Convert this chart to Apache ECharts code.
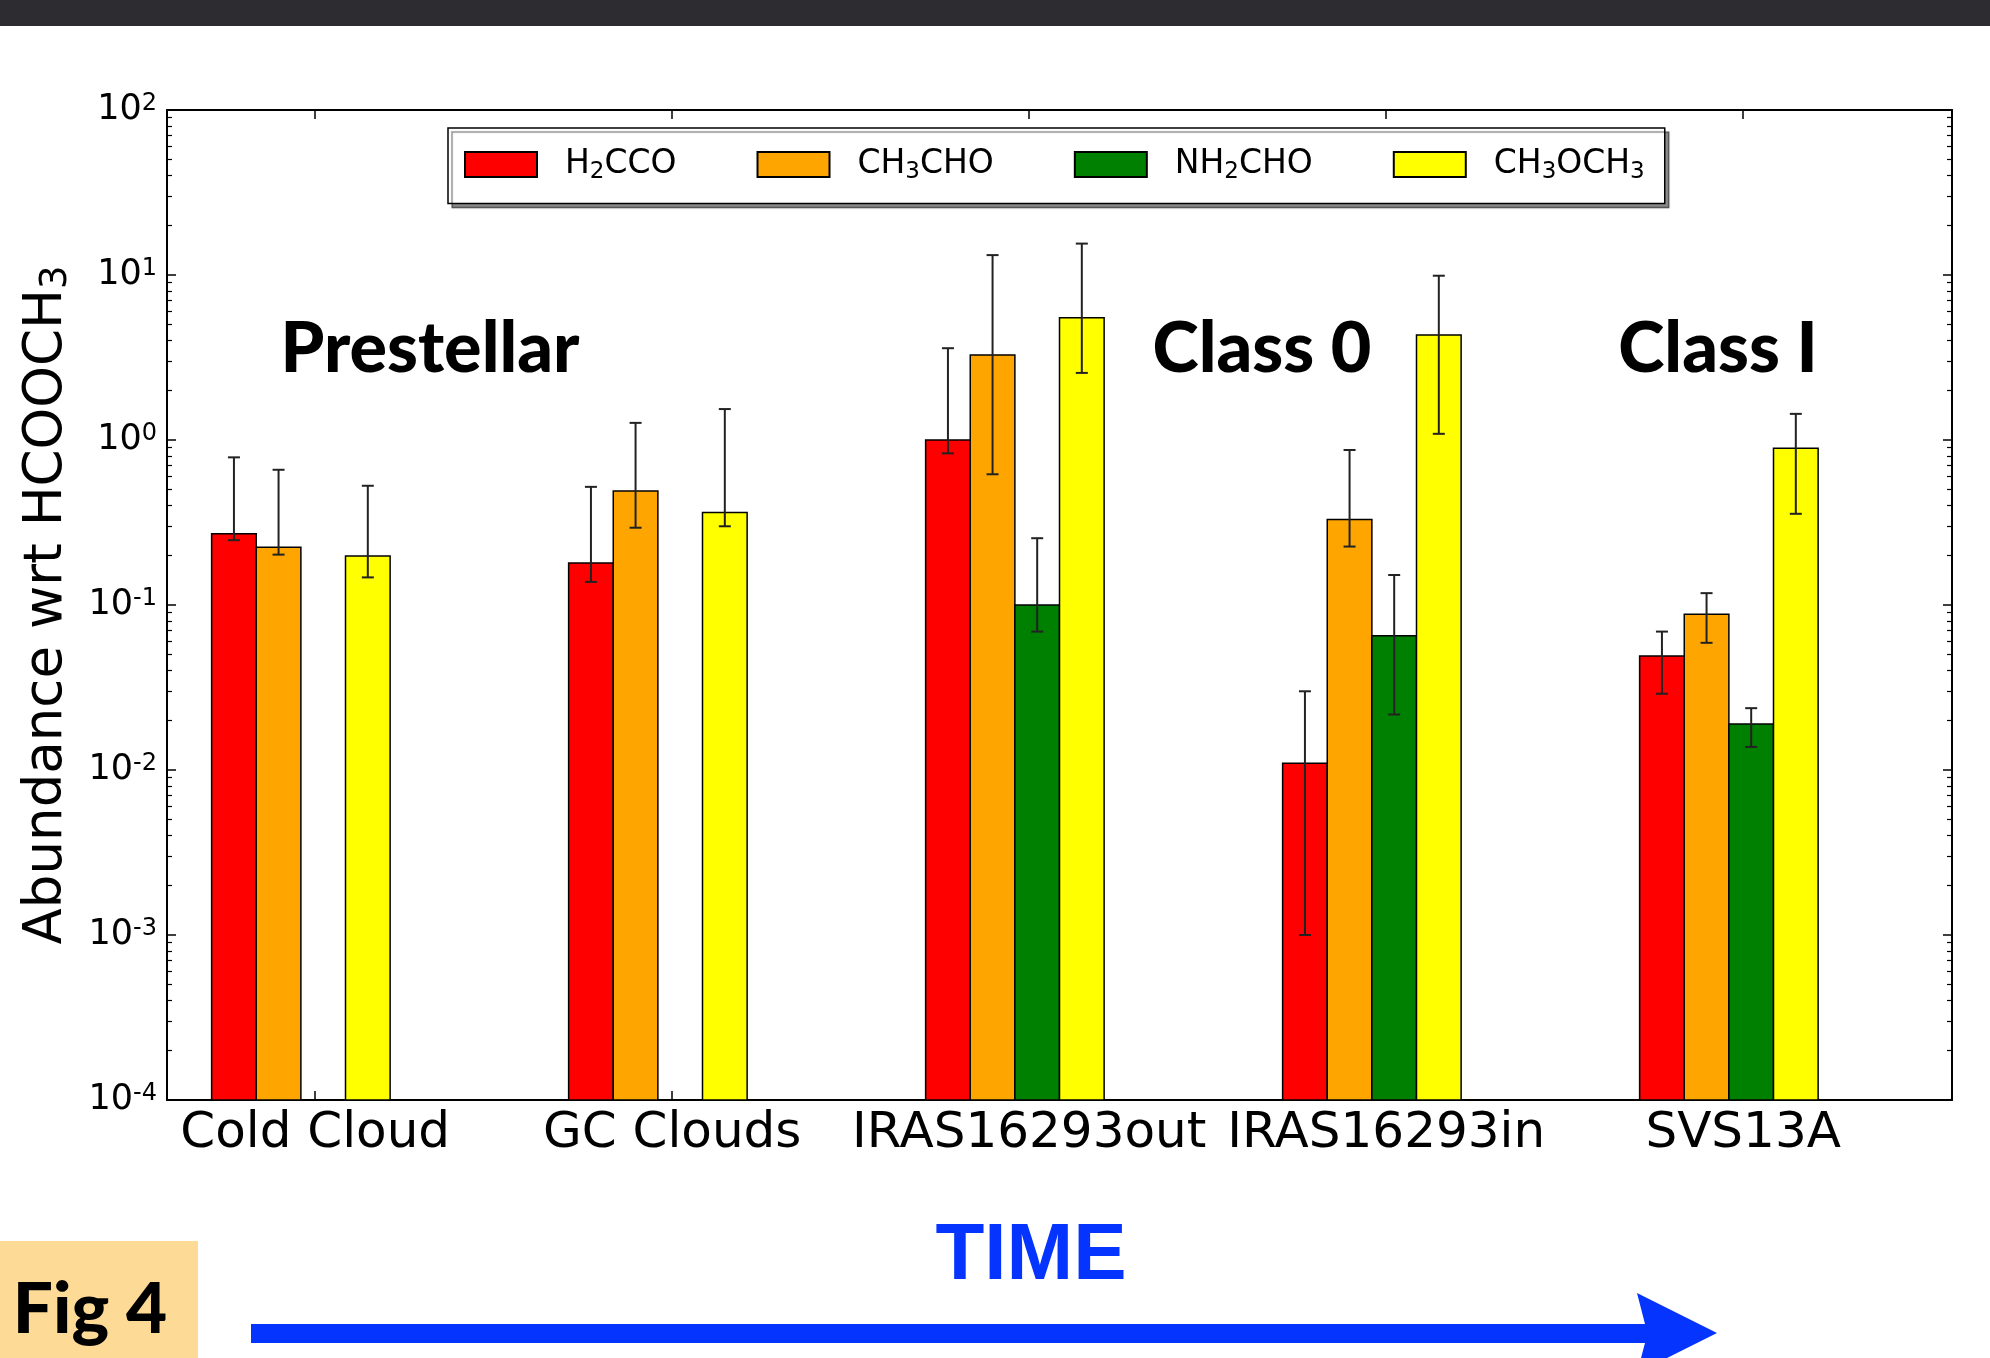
<!DOCTYPE html>
<html>
<head>
<meta charset="utf-8">
<script src="https://cdn.jsdelivr.net/npm/echarts@6/dist/echarts.min.js"></script>
<style>
  html, body { margin: 0; padding: 0; background: #fff; }
  #chart { width: 1990px; height: 1358px; }
</style>
</head>
<body>
<div id="chart"></div>
<script>
// groups along the time axis
const groups = ['Cold Cloud', 'GC Clouds', 'IRAS16293out', 'IRAS16293in', 'SVS13A'];

// abundances wrt HCOOCH3 and error bar ends (lower / upper)
const h2cco     = [0.27, 0.18, 1.0, 0.011, 0.049];
const h2ccoLo   = [0.247, 0.138, 0.83, 0.001, 0.029];
const h2ccoHi   = [0.785, 0.52, 3.6, 0.030, 0.069];
const ch3cho    = [0.224, 0.49, 3.27, 0.33, 0.088];
const ch3choLo  = [0.202, 0.294, 0.62, 0.226, 0.059];
const ch3choHi  = [0.66, 1.27, 13.2, 0.87, 0.118];
const nh2cho    = [null, null, 0.1, 0.065, 0.019];
const nh2choLo  = [null, null, 0.069, 0.0217, 0.0138];
const nh2choHi  = [null, null, 0.254, 0.152, 0.0237];
const ch3och3   = [0.198, 0.363, 5.5, 4.33, 0.89];
const ch3och3Lo = [0.147, 0.30, 2.55, 1.09, 0.357];
const ch3och3Hi = [0.528, 1.54, 15.5, 9.9, 1.44];

const molecules = ['H2CCO', 'CH3CHO', 'NH2CHO', 'CH3OCH3'];
const molLabels = ['{a|H}{s|2}{a|CCO}', '{a|CH}{s|3}{a|CHO}', '{a|NH}{s|2}{a|CHO}', '{a|CH}{s|3}{a|OCH}{s|3}'];
const molColors = ['#ff0000', '#ffa500', '#008000', '#ffff00'];
const molValues = [h2cco, ch3cho, nh2cho, ch3och3];
const molLo = [h2ccoLo, ch3choLo, nh2choLo, ch3och3Lo];
const molHi = [h2ccoHi, ch3choHi, nh2choHi, ch3och3Hi];

const yMin = 1e-4, yMax = 1e2;
const barW = 0.125;       // bar width in group units
const tickOffset = 0.29;  // tick position inside each group
const tickPos = groups.map((g, i) => i + tickOffset);

// minor ticks at 2..9 x 10^n, in exponent space
const minorExp = [];
for (let n = -4; n < 2; n++) {
  for (let k = 2; k < 10; k++) minorExp.push(n + Math.log10(k));
}

const chart = echarts.init(document.getElementById('chart'));

const font = 'DejaVu Sans';

function xAxisCfg(pos, showLabel) {
  return {
    type: 'value', position: pos, min: -barW, max: 5 - barW,
    axisLine: { show: true, onZero: false, lineStyle: { color: '#000', width: 2 } },
    axisTick: { show: true, inside: true, length: 9, customValues: tickPos, lineStyle: { color: '#000', width: 1.5 } },
    axisLabel: {
      show: showLabel, customValues: tickPos, margin: 9,
      color: '#000', fontFamily: font, fontSize: 50,
      formatter: v => groups[Math.round(v - tickOffset)] || ''
    },
    splitLine: { show: false }
  };
}

function logAxisCfg(pos, showLabel) {
  return {
    type: 'log', logBase: 10, position: pos, min: yMin, max: yMax, splitNumber: 6,
    axisLine: { show: true, onZero: false, lineStyle: { color: '#000', width: 2 } },
    axisTick: { show: true, inside: true, length: 9, lineStyle: { color: '#000', width: 1.5 } },
    axisLabel: {
      show: showLabel, margin: 10, color: '#000', fontFamily: font,
      formatter: v => '{b|10}{s|' + Math.round(Math.log10(v)) + '}',
      rich: {
        b: { fontSize: 35, lineHeight: 36, fontFamily: font, color: '#000' },
        s: { fontSize: 24, lineHeight: 6, verticalAlign: 'top', fontFamily: font, color: '#000' }
      }
    },
    splitLine: { show: false }
  };
}

function minorAxisCfg(pos) {
  return {
    type: 'value', position: pos, min: -4, max: 2,
    axisLine: { show: false, onZero: false },
    axisTick: { show: true, inside: true, length: 5, customValues: minorExp, lineStyle: { color: '#000', width: 1.2 } },
    axisLabel: { show: false },
    splitLine: { show: false }
  };
}

const leftAxis = logAxisCfg('left', true);
leftAxis.name = '{a|Abundance wrt HCOOCH}{s|3}';
leftAxis.nameLocation = 'middle';
leftAxis.nameRotate = 90;
leftAxis.nameGap = 92;
leftAxis.nameTextStyle = {
  fontFamily: font, color: '#000',
  rich: {
    a: { fontSize: 53, lineHeight: 56, fontFamily: font, color: '#000' },
    s: { fontSize: 37, lineHeight: 16, verticalAlign: 'bottom', fontFamily: font, color: '#000' }
  }
};

function makeSeries(k) {
  const data = [];
  groups.forEach((g, i) => {
    if (molValues[k][i] != null) data.push([i, molValues[k][i], molLo[k][i], molHi[k][i]]);
  });
  return {
    name: molecules[k],
    type: 'custom',
    xAxisIndex: 0, yAxisIndex: 0,
    itemStyle: { color: molColors[k], borderColor: '#000', borderWidth: 1.5 },
    encode: { x: 0, y: 1 },
    data: data,
    renderItem: (params, api) => {
      const i = api.value(0), v = api.value(1), lo = api.value(2), hi = api.value(3);
      const x0 = i + k * barW;
      const top = api.coord([x0, v]);
      const base = api.coord([x0 + barW, yMin]);
      const cx = (top[0] + base[0]) / 2;
      const yLo = api.coord([x0, lo])[1];
      const yHi = api.coord([x0, hi])[1];
      const eb = { stroke: '#222', lineWidth: 2 };
      return {
        type: 'group',
        children: [
          { type: 'rect', shape: { x: top[0], y: top[1], width: base[0] - top[0], height: base[1] - top[1] },
            style: { fill: molColors[k], stroke: '#000', lineWidth: 1.5 } },
          { type: 'line', shape: { x1: cx, y1: yLo, x2: cx, y2: yHi }, style: eb },
          { type: 'line', shape: { x1: cx - 6, y1: yHi, x2: cx + 6, y2: yHi }, style: eb },
          { type: 'line', shape: { x1: cx - 6, y1: yLo, x2: cx + 6, y2: yLo }, style: eb }
        ]
      };
    }
  };
}

const option = {
  backgroundColor: '#fff',
  animation: false,
  grid: { left: 167, right: 38, top: 110, bottom: 258 },
  xAxis: [xAxisCfg('bottom', true), xAxisCfg('top', false)],
  yAxis: [leftAxis, logAxisCfg('right', false), minorAxisCfg('left'), minorAxisCfg('right')],
  legend: {
    data: molecules,
    left: 448, top: 128,
    padding: [20, 20, 20, 16],
    itemGap: 80, itemWidth: 72, itemHeight: 25,
    icon: 'rect',
    backgroundColor: '#fff',
    borderColor: '#000', borderWidth: 1.5, borderRadius: 0,
    shadowColor: 'rgba(0,0,0,0.45)', shadowBlur: 1, shadowOffsetX: 4, shadowOffsetY: 4,
    formatter: name => molLabels[molecules.indexOf(name)],
    textStyle: {
      fontFamily: font, fontSize: 33, color: '#000', padding: [0, 0, 0, 23],
      rich: {
        a: { fontSize: 33, lineHeight: 38, fontFamily: font, color: '#000' },
        s: { fontSize: 23, lineHeight: 12, verticalAlign: 'bottom', fontFamily: font, color: '#000' }
      }
    }
  },
  series: [0, 1, 2, 3].map(makeSeries),
  graphic: [
    // dark strip of the slide above the figure
    { type: 'rect', left: 0, top: 0, shape: { width: 1990, height: 26 }, style: { fill: '#2d2d31' }, z: 10 },
    { type: 'text', x: 430, y: 349, style: { text: 'Prestellar', font: '900 70px Lato', fill: '#000', align: 'center', verticalAlign: 'middle' }, z: 10 },
    { type: 'text', x: 1262, y: 349, style: { text: 'Class 0', font: '900 70px Lato', fill: '#000', align: 'center', verticalAlign: 'middle' }, z: 10 },
    { type: 'text', x: 1718, y: 349, style: { text: 'Class I', font: '900 70px Lato', fill: '#000', align: 'center', verticalAlign: 'middle' }, z: 10 },
    // Fig 4 tag
    { type: 'rect', shape: { x: 0, y: 1241, width: 198, height: 117 }, style: { fill: '#fddb96' }, z: 10 },
    { type: 'text', x: 90, y: 1310, style: { text: 'Fig 4', font: '900 71px Lato', fill: '#000', align: 'center', verticalAlign: 'middle' }, z: 11 },
    // time arrow
    { type: 'text', x: 1031, y: 1257, style: { text: 'TIME', font: 'bold 80px "Liberation Sans"', fill: '#0534ff', align: 'center', verticalAlign: 'middle' }, z: 10 },
    { type: 'polygon', shape: { points: [[251, 1324], [1645, 1324], [1637, 1293], [1717, 1333], [1637, 1373], [1645, 1343], [251, 1343]] },
      style: { fill: '#0534ff' }, z: 10 }
  ]
};

chart.setOption(option);
</script>
</body>
</html>
